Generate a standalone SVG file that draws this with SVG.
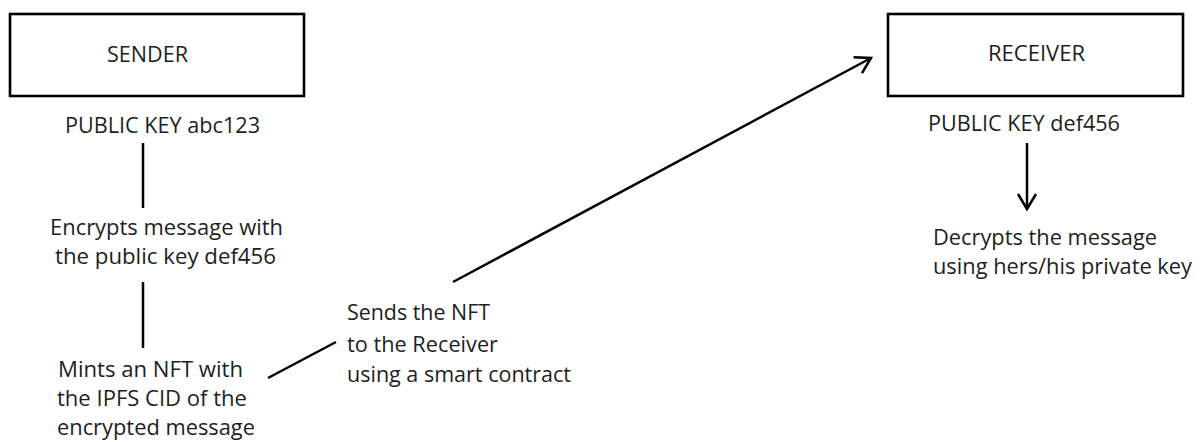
<svg xmlns="http://www.w3.org/2000/svg" width="1203" height="442" viewBox="0 0 1203 442">
  <style>
    text { font-family: "Open Sans", "Noto Sans", "Liberation Sans", sans-serif; font-size: 22px; fill: #1e1e1e; }
    .box { fill: #ffffff; stroke: #000000; stroke-width: 2.6; }
    .conn { fill: none; stroke: #000000; stroke-width: 2.5; }
    .head { fill: none; stroke: #000000; stroke-width: 2.5; stroke-linejoin: miter; }
  </style>
  <defs>
    <marker id="open-arrow" markerUnits="userSpaceOnUse" markerWidth="40" markerHeight="40" viewBox="-20 -20 40 40" refX="0" refY="0" orient="auto" overflow="visible">
      <path class="head" d="M -15 -9 L 0 0 L -15 9"/>
    </marker>
  </defs>
  <rect width="1203" height="442" fill="#ffffff"/>

  <g id="sender">
    <rect class="box" x="10" y="14" width="294" height="82"/>
    <text x="107" y="62" textLength="81" lengthAdjust="spacingAndGlyphs">SENDER</text>
  </g>
  <g id="sender-key">
    <text x="65" y="133" textLength="195" lengthAdjust="spacingAndGlyphs">PUBLIC KEY abc123</text>
  </g>
  <g id="encrypt">
    <text x="50" y="235" textLength="233" lengthAdjust="spacingAndGlyphs">Encrypts message with</text>
    <text x="55" y="264" textLength="221" lengthAdjust="spacingAndGlyphs">the public key def456</text>
  </g>
  <g id="mint">
    <text x="58" y="377" textLength="185" lengthAdjust="spacingAndGlyphs">Mints an NFT with</text>
    <text x="57" y="406" textLength="190" lengthAdjust="spacingAndGlyphs">the IPFS CID of the</text>
    <text x="57" y="435" textLength="198" lengthAdjust="spacingAndGlyphs">encrypted message</text>
  </g>
  <g id="send">
    <text x="347" y="320" textLength="143" lengthAdjust="spacingAndGlyphs">Sends the NFT</text>
    <text x="347" y="352" textLength="151" lengthAdjust="spacingAndGlyphs">to the Receiver</text>
    <text x="347" y="382" textLength="224" lengthAdjust="spacingAndGlyphs">using a smart contract</text>
  </g>
  <g id="receiver">
    <rect class="box" x="888" y="14" width="295" height="82"/>
    <text x="988" y="61" textLength="97" lengthAdjust="spacingAndGlyphs">RECEIVER</text>
  </g>
  <g id="receiver-key">
    <text x="928" y="131" textLength="192" lengthAdjust="spacingAndGlyphs">PUBLIC KEY def456</text>
  </g>
  <g id="decrypt">
    <text x="933" y="245" textLength="224" lengthAdjust="spacingAndGlyphs">Decrypts the message</text>
    <text x="933" y="274" textLength="259" lengthAdjust="spacingAndGlyphs">using hers/his private key</text>
  </g>

  <g id="connectors">
    <line class="conn" x1="143" y1="143" x2="143" y2="208"/>
    <line class="conn" x1="143" y1="282" x2="143" y2="348"/>
    <line class="conn" x1="268" y1="378" x2="336" y2="342"/>
    <line class="conn" x1="453" y1="282" x2="871" y2="58" marker-end="url(#open-arrow)"/>
    <line class="conn" x1="1027" y1="143" x2="1027" y2="209" marker-end="url(#open-arrow)"/>
  </g>
</svg>
